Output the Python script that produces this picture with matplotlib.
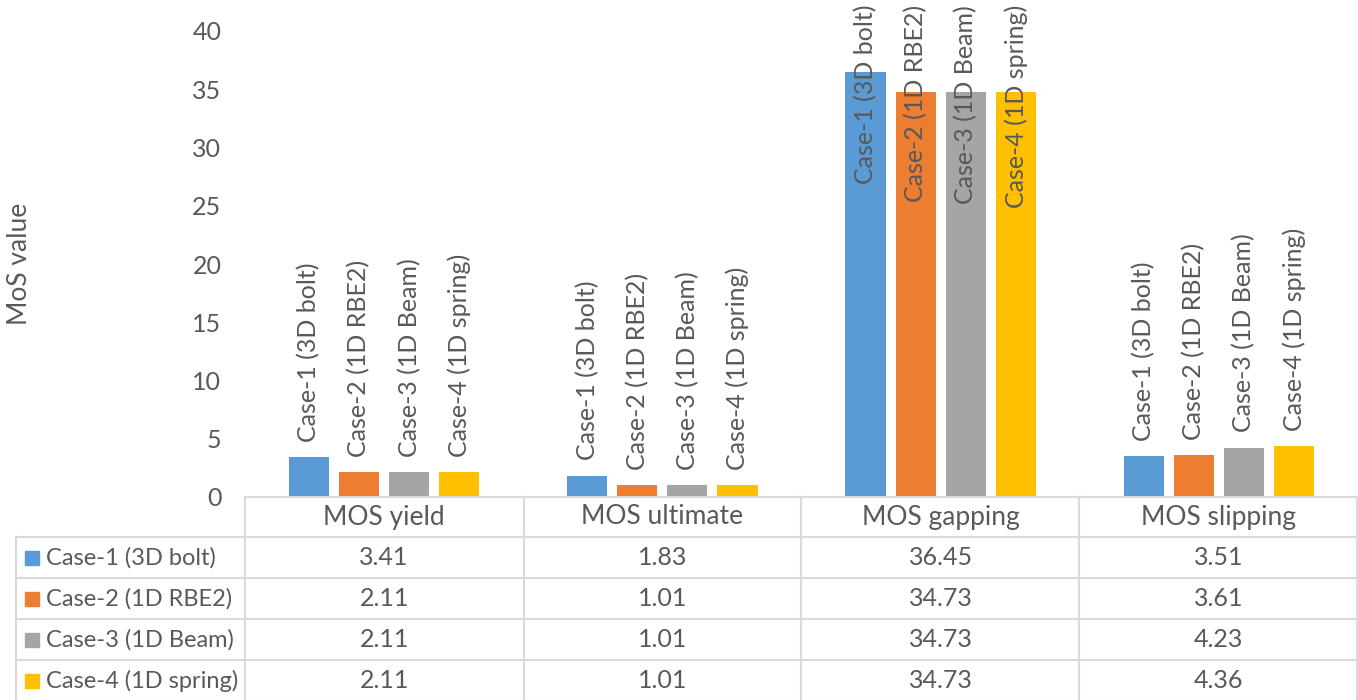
import matplotlib.pyplot as plt
from matplotlib.lines import Line2D
from matplotlib.transforms import blended_transform_factory
import numpy as np

plt.rcParams['font.family'] = ['Lato', 'DejaVu Sans']

categories = ['MOS yield', 'MOS ultimate', 'MOS gapping', 'MOS slipping']
series_names = ['Case-1 (3D bolt)', 'Case-2 (1D RBE2)', 'Case-3 (1D Beam)', 'Case-4 (1D spring)']
case1 = [3.41, 1.83, 36.45, 3.51]
case2 = [2.11, 1.01, 34.73, 3.61]
case3 = [2.11, 1.01, 34.73, 4.23]
case4 = [2.11, 1.01, 34.73, 4.36]
series = [case1, case2, case3, case4]
colors = ['#5B9BD5', '#ED7D31', '#A5A5A5', '#FFC000']

text_color = '#595959'
grid_color = '#D9D9D9'
W, H = 1358, 700
fs = 18

fig = plt.figure(figsize=(W / 100, H / 100), dpi=100)
# plot area in pixel units
left, right, top, bottom = 245, 1358, 31, 497
ax = fig.add_axes([left / W, 1 - bottom / H, (right - left) / W, (bottom - top) / H])

x = np.arange(len(categories))
bar_w = 0.144
step = 0.18
labels = []
for i, (name, vals, col) in enumerate(zip(series_names, series, colors)):
    xs = x + (i - 1.5) * step
    ax.bar(xs, vals, width=bar_w, color=col)
    for xi, v in zip(xs, vals):
        t = ax.annotate(name, (xi, v), xytext=(0, 11), textcoords='offset points',
                        rotation=90, ha='center', va='bottom', fontsize=fs,
                        color=text_color, annotation_clip=False)
        labels.append(t)

ax.set_xlim(-0.5, len(categories) - 0.5)
ax.set_ylim(0, 40)
ax.set_yticks(range(0, 41, 5))
ax.tick_params(axis='y', length=0, pad=17, labelsize=fs, labelcolor=text_color)
ax.set_xticks([])
for s in ax.spines.values():
    s.set_visible(False)
fig.text(20 / W, 1 - 264 / H, 'MoS value', rotation=90, ha='center', va='center',
         fontsize=19, color=text_color)

# keep labels inside the figure
fig.canvas.draw()
renderer = fig.canvas.get_renderer()
for t in labels:
    bb = t.get_window_extent(renderer)
    limit = H - 5
    if bb.y1 > limit:
        t.xyann = (t.xyann[0], t.xyann[1] - (bb.y1 - limit) * 72 / 100)


def hline(y, x0, x1):
    fig.add_artist(Line2D([x0 / W, x1 / W], [1 - y / H, 1 - y / H], color=grid_color, lw=1.5))


def vline(xp, y0, y1):
    fig.add_artist(Line2D([xp / W, xp / W], [1 - y0 / H, 1 - y1 / H], color=grid_color, lw=1.5))


head_h, row_h = 40, 41
row_tops = [bottom + head_h + r * row_h for r in range(5)]
hline(bottom, left, W)
for y in row_tops:
    hline(y, 16, W)
vline(16, row_tops[0], row_tops[-1])
col_edges = [left, 524, 801, 1079, W - 1]
for cx in col_edges:
    vline(cx, bottom, row_tops[-1])

# table text: columns follow the category positions
tr = blended_transform_factory(ax.transData, fig.transFigure)
for xi, c in zip(x, categories):
    fig.text(xi, 1 - (bottom + head_h / 2) / H, c, transform=tr,
             ha='center', va='center', fontsize=19, color=text_color)
for r, (name, vals, col) in enumerate(zip(series_names, series, colors)):
    yc = 1 - (row_tops[r] + row_h / 2) / H
    fig.patches.append(plt.Rectangle((25 / W, yc - 7 / H), 14 / W, 14 / H,
                                     transform=fig.transFigure, color=col, figure=fig))
    fig.text(46 / W, yc, name, ha='left', va='center', fontsize=17, color=text_color)
    for xi, v in zip(x, vals):
        fig.text(xi, yc, f'{v:.2f}', transform=tr,
                 ha='center', va='center', fontsize=fs, color=text_color)

fig.savefig('out.png', dpi=100)
